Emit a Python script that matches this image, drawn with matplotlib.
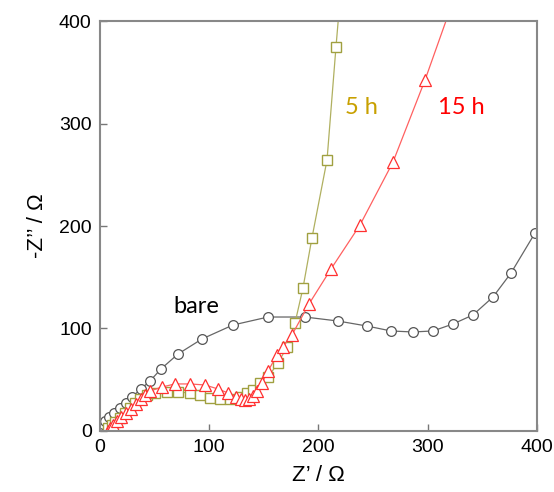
import numpy as np
import matplotlib
matplotlib.use("Agg")
from matplotlib import pyplot as plt

# Nyquist data (Z' , -Z'' in ohm)
bare_x = [0.5, 1.2, 2.7, 4.6, 8.2, 12.8, 18.3, 23.8, 29.3, 37.5, 45.8, 55.8, 71.4, 93.4,
          121.7, 153.8, 187.6, 217.8, 244.4, 266.4, 286.5, 304.8, 323.1, 341.4, 359.7,
          376.2, 398.2]
bare_y = [1.0, 3.5, 6.8, 9.8, 13.7, 17.6, 22.4, 27.3, 33.2, 41.0, 48.8, 60.5, 75.1, 89.8,
          103.4, 111.2, 111.2, 107.3, 102.4, 97.6, 96.6, 97.6, 104.4, 113.2, 130.7,
          154.1, 193.2]

h5_x = [7.3, 11.0, 13.7, 18.3, 22.9, 27.5, 32.0, 36.6, 43.0, 50.3, 61.3, 71.4, 82.4, 91.5,
        100.7, 109.8, 119.0, 128.1, 134.6, 140.0, 146.5, 153.8, 162.9, 171.2, 178.5,
        185.8, 194.0, 207.8, 216.0, 220.0]
h5_y = [2.9, 5.9, 8.8, 12.7, 17.6, 22.4, 27.3, 31.2, 35.1, 37.1, 38.0, 38.0, 37.1, 35.1,
        32.2, 31.2, 31.2, 33.2, 37.1, 40.0, 46.8, 52.7, 66.3, 82.0, 105.4,
        139.5, 188.3, 264.4, 374.6, 425.0]

h15_x = [7.3, 9.2, 11.9, 15.6, 19.2, 23.8, 28.4, 33.0, 37.5, 41.2, 45.8, 56.8, 68.6, 82.4,
         96.1, 108.0, 117.2, 124.5, 129.1, 132.7, 136.4, 140.0, 143.7, 148.3, 153.8,
         162.0, 167.5, 175.7, 191.3, 211.4, 238.0, 268.2, 297.5, 325.0]
h15_y = [0.0, 2.9, 5.9, 9.8, 13.7, 17.6, 21.5, 26.3, 31.2, 35.1, 39.0, 42.9, 45.9, 45.9,
         44.9, 41.0, 37.1, 33.2, 31.2, 30.2, 31.2, 34.1, 39.0, 46.8, 58.5,
         74.1, 82.0, 93.7, 123.9, 158.0, 201.0, 262.4, 342.4, 425.0]

ticks = [0, 100, 200, 300, 400]

plt.rcParams['font.family'] = ['Liberation Sans', 'DejaVu Sans']

fig = plt.figure(figsize=(5.54, 4.92), dpi=100)
ax = fig.add_axes([0.1805, 0.124, 0.7888, 0.8333])

ax.plot(bare_x, bare_y, "-", color="#666666", lw=0.9, marker="o", ms=7,
        mfc="white", mec="#555555", mew=0.9)
ax.plot(h5_x, h5_y, "-", color="#b0b060", lw=0.9, marker="s", ms=6.5,
        mfc="white", mec="#a0a040", mew=1.0)
ax.plot(h15_x, h15_y, "-", color="#ff6060", lw=0.9, marker="^", ms=8,
        mfc="white", mec="#ff3030", mew=0.9)

lab_font = ["Lato", "DejaVu Sans"]
ax.text(88, 121, "bare", fontsize=17, ha="center", va="center", family=lab_font)
ax.text(239, 316, "5 h", fontsize=17, ha="center", va="center", color="#c8a000",
        family=lab_font)
ax.text(331, 316, "15 h", fontsize=17, ha="center", va="center", color="#ff0000",
        family=lab_font)

ax.set_xlim(0, 400)
ax.set_ylim(0, 400)
ax.set_xticks(ticks)
ax.set_yticks(ticks)
ax.tick_params(direction="in", length=5, width=1, color="#777777", labelsize=14,
               top=False, right=False, pad=6)
for s in ax.spines.values():
    s.set_color("#888888")
    s.set_linewidth(1.5)

ax.set_xlabel("Z\u2019 / \u03a9", fontsize=16, labelpad=6)
ax.set_ylabel("-Z\u2019\u2019 / \u03a9", fontsize=16, labelpad=8)

plt.savefig("out.png", dpi=100)
